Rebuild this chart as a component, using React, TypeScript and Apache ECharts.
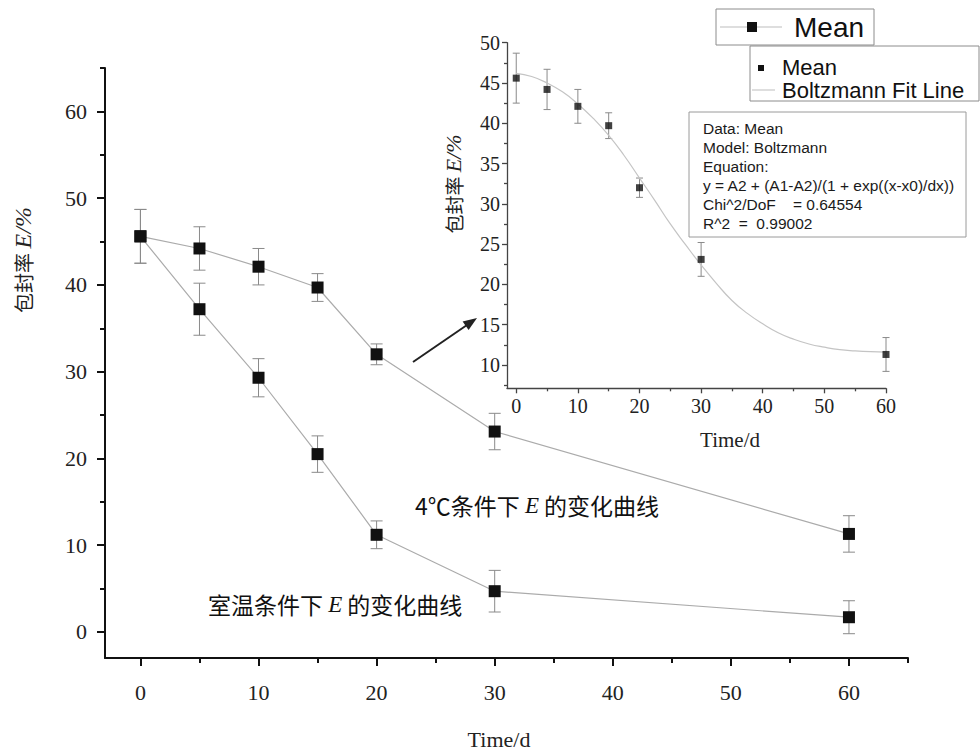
import React, { useEffect, useRef } from "react";
import * as echarts from "echarts";

// ---------- data ----------
const days = [0, 5, 10, 15, 20, 30, 60];
const mean4C = [45.6, 44.2, 42.1, 39.7, 32.0, 23.1, 11.3];
const err4C = [3.1, 2.5, 2.1, 1.6, 1.2, 2.1, 2.1];
const meanRoom = [45.6, 37.2, 29.3, 20.5, 11.2, 4.7, 1.7];
const errRoom = [3.1, 3.0, 2.2, 2.1, 1.6, 2.4, 1.9];

// Boltzmann fit line
const fitX = [0, 2.5, 5, 7.5, 10, 12.5, 15, 17.5, 20, 22.5, 25, 27.5, 30, 32.5, 35, 37.5, 40, 42.5, 45, 47.5, 50, 52.5, 55, 57.5, 60];
const fitY = [46.2, 45.8, 45.0, 43.9, 42.4, 40.6, 38.5, 36.0, 33.2, 30.4, 27.5, 24.9, 22.4, 20.1, 18.0, 16.4, 15.1, 14.0, 13.2, 12.6, 12.2, 11.9, 11.75, 11.65, 11.6];

// tick labels
const mainXTicks = [0, 10, 20, 30, 40, 50, 60];
const mainXMinor = [5, 15, 25, 35, 45, 55, 65];
const mainYTicks = [0, 10, 20, 30, 40, 50, 60];
const mainYMinor = [5, 15, 25, 35, 45, 55, 65];
const insetXTicks = [0, 10, 20, 30, 40, 50, 60];
const insetXMinor = [5, 15, 25, 35, 45, 55];
const insetYTicks = [10, 15, 20, 25, 30, 35, 40, 45, 50];
const insetYMinor = [7.5, 12.5, 17.5, 22.5, 27.5, 32.5, 37.5, 42.5, 47.5];

const statsLines = [
  "Data: Mean",
  "Model: Boltzmann",
  "Equation:",
  "y = A2 + (A1-A2)/(1 + exp((x-x0)/dx))",
  "Chi^2/DoF    = 0.64554",
  "R^2  =  0.99002",
];

const SERIF = "'Liberation Serif', 'Times New Roman', 'DejaVu Serif', serif";
const SANS = "'Liberation Sans', Arial, 'DejaVu Sans', sans-serif";
const CJK = "'Noto Sans CJK SC', 'Noto Sans', sans-serif";

function errData(means: number[], errs: number[]) {
  return days.map((d, i) => [d, means[i] - errs[i], means[i] + errs[i]]);
}

function errSeries(data: number[][], xi: number, yi: number, cap: number, color: string) {
  return {
    type: "custom",
    xAxisIndex: xi,
    yAxisIndex: yi,
    data,
    z: 1,
    silent: true,
    encode: { x: 0, y: [1, 2] },
    renderItem: (params: any, api: any) => {
      const x = api.value(0);
      const top = api.coord([x, api.value(2)]);
      const bot = api.coord([x, api.value(1)]);
      const st = { stroke: color, lineWidth: 1 };
      return {
        type: "group",
        children: [
          { type: "line", shape: { x1: top[0], y1: top[1], x2: bot[0], y2: bot[1] }, style: st },
          { type: "line", shape: { x1: top[0] - cap, y1: top[1], x2: top[0] + cap, y2: top[1] }, style: st },
          { type: "line", shape: { x1: bot[0] - cap, y1: bot[1], x2: bot[0] + cap, y2: bot[1] }, style: st },
        ],
      };
    },
  };
}

function axis(
  gridIndex: number,
  position: string,
  min: number,
  max: number,
  values: number[],
  o: { labels: boolean; lineColor: string; lineWidth: number; tickLen: number; showLine: boolean; margin?: number; fontSize?: number }
) {
  return {
    type: "value",
    gridIndex,
    position,
    offset: 0,
    min,
    max,
    splitLine: { show: false },
    axisLine: { show: o.showLine, onZero: false, lineStyle: { color: o.lineColor, width: o.lineWidth } },
    axisTick: {
      show: true,
      customValues: values,
      length: o.tickLen,
      lineStyle: { color: o.lineColor, width: o.lineWidth },
    },
    axisLabel: {
      show: o.labels,
      customValues: values,
      margin: o.margin ?? 8,
      fontFamily: SERIF,
      fontSize: o.fontSize ?? 20,
      color: "#222",
    },
  };
}

export default function App() {
  const ref = useRef<HTMLDivElement>(null);

  useEffect(() => {
    if (!ref.current) return;
    const chart = echarts.init(ref.current, undefined, { renderer: "svg" });

    const mainLineColor = "#ababab";
    const errColor = "#8a8a8a";

    const option: any = {
      animation: false,
      backgroundColor: "#fff",
      grid: [
        { left: 105, top: 68, width: 803, height: 590 },
        { left: 507, top: 42.7, width: 379, height: 345.6 },
      ],
      xAxis: [
        axis(0, "bottom", -3, 65, mainXTicks, { labels: true, lineColor: "#111", lineWidth: 2, tickLen: 8, showLine: true, margin: 23, fontSize: 22 }),
        axis(0, "bottom", -3, 65, mainXMinor, { labels: false, lineColor: "#111", lineWidth: 2, tickLen: 5, showLine: false }),
        axis(1, "bottom", -1.5, 60, insetXTicks, { labels: true, lineColor: "#444", lineWidth: 1.3, tickLen: 5, showLine: true, margin: 8, fontSize: 20 }),
        axis(1, "bottom", -1.5, 60, insetXMinor, { labels: false, lineColor: "#444", lineWidth: 1.3, tickLen: 3, showLine: false }),
      ],
      yAxis: [
        axis(0, "left", -3, 65, mainYTicks, { labels: true, lineColor: "#111", lineWidth: 2, tickLen: 8, showLine: true, margin: 18, fontSize: 22 }),
        axis(0, "left", -3, 65, mainYMinor, { labels: false, lineColor: "#111", lineWidth: 2, tickLen: 5, showLine: false }),
        axis(1, "left", 7.1, 50, insetYTicks, { labels: true, lineColor: "#444", lineWidth: 1.3, tickLen: 5, showLine: true, margin: 7, fontSize: 20 }),
        axis(1, "left", 7.1, 50, insetYMinor, { labels: false, lineColor: "#444", lineWidth: 1.3, tickLen: 3, showLine: false }),
      ],
      series: [
        errSeries(errData(mean4C, err4C), 0, 0, 6, errColor),
        errSeries(errData(meanRoom, errRoom), 0, 0, 6, errColor),
        {
          type: "line",
          name: "4℃",
          xAxisIndex: 0,
          yAxisIndex: 0,
          z: 3,
          data: days.map((d, i) => [d, mean4C[i]]),
          symbol: "rect",
          symbolSize: 12,
          itemStyle: { color: "#111" },
          lineStyle: { color: mainLineColor, width: 1.2 },
          silent: true,
        },
        {
          type: "line",
          name: "室温",
          xAxisIndex: 0,
          yAxisIndex: 0,
          z: 3,
          data: days.map((d, i) => [d, meanRoom[i]]),
          symbol: "rect",
          symbolSize: 12,
          itemStyle: { color: "#111" },
          lineStyle: { color: mainLineColor, width: 1.2 },
          silent: true,
        },
        {
          type: "line",
          name: "Boltzmann Fit Line",
          xAxisIndex: 2,
          yAxisIndex: 2,
          z: 2,
          data: fitX.map((x, i) => [x, fitY[i]]),
          smooth: true,
          showSymbol: false,
          symbol: "none",
          lineStyle: { color: "#c4c4c4", width: 1.2 },
          silent: true,
        },
        errSeries(errData(mean4C, err4C), 2, 2, 3.5, errColor),
        {
          type: "scatter",
          name: "Mean",
          xAxisIndex: 2,
          yAxisIndex: 2,
          z: 3,
          data: days.map((d, i) => [d, mean4C[i]]),
          symbol: "rect",
          symbolSize: 7,
          itemStyle: { color: "#111" },
          silent: true,
        },
      ],
      graphic: [
        // main y-axis name
        {
          type: "text",
          x: 23,
          y: 260,
          rotation: Math.PI / 2,
          style: {
            text: "{c|包封率 }{e|E/%}",
            align: "center",
            verticalAlign: "middle",
            rich: {
              c: { fontFamily: CJK, fontSize: 20, fill: "#222" },
              e: { fontFamily: SERIF, fontStyle: "italic", fontSize: 24, fill: "#222" },
            },
          },
        },
        // main x-axis name
        {
          type: "text",
          x: 499,
          y: 739,
          style: { text: "Time/d", fontFamily: SERIF, fontSize: 22, fill: "#222", align: "center", verticalAlign: "middle" },
        },
        // inset y-axis name
        {
          type: "text",
          x: 453,
          y: 184,
          rotation: Math.PI / 2,
          style: {
            text: "{c|包封率 }{e|E/%}",
            align: "center",
            verticalAlign: "middle",
            rich: {
              c: { fontFamily: CJK, fontSize: 19, fill: "#222" },
              e: { fontFamily: SERIF, fontStyle: "italic", fontSize: 22, fill: "#222" },
            },
          },
        },
        // inset x-axis name
        {
          type: "text",
          x: 730,
          y: 440,
          style: { text: "Time/d", fontFamily: SERIF, fontSize: 21, fill: "#222", align: "center", verticalAlign: "middle" },
        },
        // annotations
        {
          type: "text",
          x: 415,
          y: 505,
          style: {
            text: "{c|4℃条件下 }{e|E}{c| 的变化曲线}",
            align: "left",
            verticalAlign: "middle",
            rich: {
              c: { fontFamily: CJK, fontSize: 23, fill: "#111" },
              e: { fontFamily: SERIF, fontStyle: "italic", fontSize: 23, fill: "#111" },
            },
          },
        },
        {
          type: "text",
          x: 208,
          y: 604,
          style: {
            text: "{c|室温条件下 }{e|E}{c| 的变化曲线}",
            align: "left",
            verticalAlign: "middle",
            rich: {
              c: { fontFamily: CJK, fontSize: 23, fill: "#111" },
              e: { fontFamily: SERIF, fontStyle: "italic", fontSize: 23, fill: "#111" },
            },
          },
        },
        // arrow
        {
          type: "line",
          shape: { x1: 413, y1: 362, x2: 467, y2: 325 },
          style: { stroke: "#222", lineWidth: 2 },
        },
        {
          type: "polygon",
          shape: { points: [[477, 318], [468.6, 330], [462.6, 321.5]] },
          style: { fill: "#222" },
        },
        // legend box 1
        {
          type: "rect",
          shape: { x: 716, y: 9, width: 158, height: 36 },
          style: { fill: "#fff", stroke: "#8c8c8c", lineWidth: 1 },
          z: 10,
        },
        { type: "line", shape: { x1: 720, y1: 27, x2: 782, y2: 27 }, style: { stroke: "#bdbdbd", lineWidth: 1 }, z: 11 },
        { type: "rect", shape: { x: 747, y: 22, width: 10, height: 10 }, style: { fill: "#111" }, z: 12 },
        {
          type: "text",
          x: 794,
          y: 27,
          z: 12,
          style: { text: "Mean", fontFamily: SANS, fontSize: 28, fill: "#111", align: "left", verticalAlign: "middle" },
        },
        // legend box 2
        {
          type: "rect",
          shape: { x: 750, y: 46, width: 229, height: 55 },
          style: { fill: "#fff", stroke: "#8c8c8c", lineWidth: 1 },
          z: 10,
        },
        { type: "rect", shape: { x: 758, y: 65, width: 6, height: 6 }, style: { fill: "#111" }, z: 12 },
        {
          type: "text",
          x: 782,
          y: 67,
          z: 12,
          style: { text: "Mean", fontFamily: SANS, fontSize: 22, fill: "#111", align: "left", verticalAlign: "middle" },
        },
        { type: "line", shape: { x1: 752, y1: 90, x2: 775, y2: 90 }, style: { stroke: "#bdbdbd", lineWidth: 1 }, z: 11 },
        {
          type: "text",
          x: 782,
          y: 90,
          z: 12,
          style: { text: "Boltzmann Fit Line", fontFamily: SANS, fontSize: 22, fill: "#111", align: "left", verticalAlign: "middle" },
        },
        // stats box
        {
          type: "rect",
          shape: { x: 689, y: 112, width: 277, height: 125 },
          style: { fill: "#fff", stroke: "#9a9a9a", lineWidth: 1 },
          z: 10,
        },
        {
          type: "text",
          x: 703,
          y: 119,
          z: 12,
          style: {
            text: statsLines.join("\n"),
            fontFamily: SANS,
            fontSize: 15.5,
            lineHeight: 19,
            fill: "#1a1a1a",
            align: "left",
            verticalAlign: "top",
          },
        },
      ],
    };

    chart.setOption(option);
    return () => chart.dispose();
  }, []);

  return (
    <div
      ref={ref}
      style={{ position: "fixed", left: 0, top: 0, width: 980, height: 751, background: "#fff" }}
    />
  );
}
